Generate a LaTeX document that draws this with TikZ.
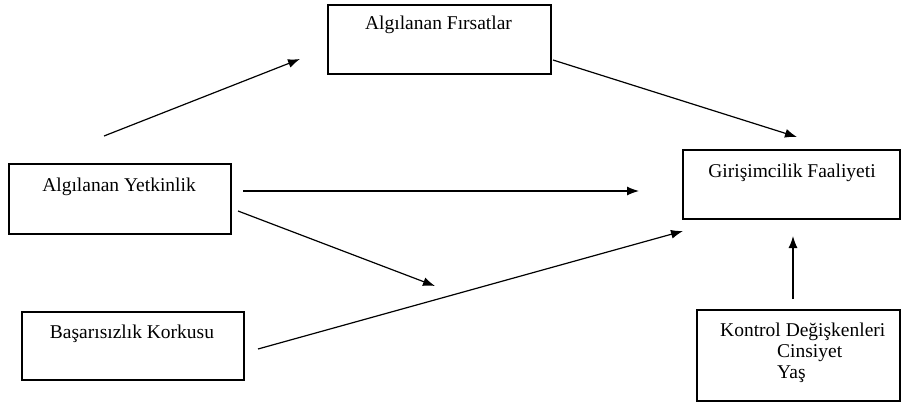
\documentclass[tikz,border=0pt]{standalone}
\usepackage{fontspec}
\setmainfont{Liberation Serif}
\usetikzlibrary{arrows.meta}

\begin{document}
\begin{tikzpicture}[x=1pt,y=-1pt,
                    box node/.style={draw,line width=1.6pt,anchor=north west,inner sep=0pt},
                    text node/.style={anchor=base,inner sep=0pt,font=\fontsize{19.5}{21}\selectfont},
                    link/.style={line width=1.2pt,-{Latex[length=12pt,width=9pt]}}]
  \useasboundingbox (0,0) rectangle (901,404);

  % boxes
  \node[box node,minimum width=223pt,minimum height=69pt] (opp) at (327,4) {};
  \node[box node,minimum width=222pt,minimum height=70pt] (comp) at (8,163) {};
  \node[box node,minimum width=222pt,minimum height=68pt] (fear) at (21,311) {};
  \node[box node,minimum width=217pt,minimum height=69pt] (act) at (682,149) {};
  \node[box node,minimum width=203pt,minimum height=91pt] (ctrl) at (696,309) {};

  % texts
  \node[text node] (opp text) at (438.5,30) {Algılanan Fırsatlar};
  \node[text node] (comp text) at (119,191) {Algılanan Yetkinlik};
  \node[text node] (fear text) at (132,338) {Başarısızlık Korkusu};
  \node[text node] (act text) at (792,177) {Girişimcilik Faaliyeti};
  \node[text node,anchor=base west] (ctrl text) at (720,336) {Kontrol Değişkenleri};
  \node[text node,anchor=base west] (sex text) at (777,357) {Cinsiyet};
  \node[text node,anchor=base west] (age text) at (777,378) {Yaş};

  % arrow ends
  \coordinate (c1) at (104,136);
  \coordinate (c2) at (300,59);
  \coordinate (c3) at (553,60);
  \coordinate (c4) at (797,137);
  \coordinate (c5) at (243,191);
  \coordinate (c6) at (639,191);
  \coordinate (c7) at (238,211);
  \coordinate (c8) at (435,286);
  \coordinate (c9) at (258,349);
  \coordinate (c10) at (683,231);
  \coordinate (c11) at (793,299);
  \coordinate (c12) at (793,236);

  \draw[link] (c1) -- (c2);
  \draw[link] (c3) -- (c4);
  \draw[link] (c5) -- (c6);
  \draw[link] (c7) -- (c8);
  \draw[link] (c9) -- (c10);
  \draw[link] (c11) -- (c12);
\end{tikzpicture}
\end{document}
